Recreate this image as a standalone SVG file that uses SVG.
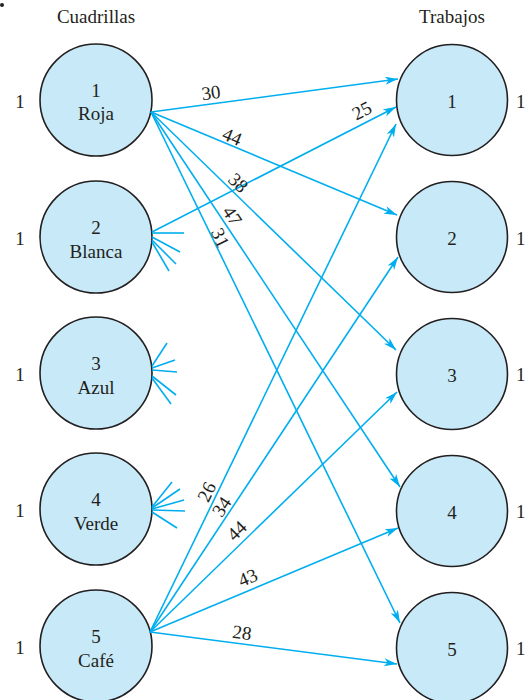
<svg xmlns="http://www.w3.org/2000/svg" width="525" height="700" viewBox="0 0 525 700">
<style>
text{font-family:"Liberation Serif","Times New Roman",serif;font-size:19px;fill:#231f20}
.m{text-anchor:middle}
.n circle{fill:#c8e9f8;stroke:#231f20;stroke-width:1.6}
.e line{stroke:#00aeef;stroke-width:1.6;fill:none}
.e .a{marker-end:url(#ah)}
</style>
<defs>
<marker id="ah" markerUnits="userSpaceOnUse" markerWidth="14" markerHeight="10" refX="13" refY="4" orient="auto">
<path d="M0,0 L13,4 L0,8 L3.5,4 z" fill="#00aeef"/>
</marker>
</defs>
<rect width="525" height="700" fill="#fff"/>
<circle cx="2" cy="5" r="2" fill="#231f20"/>
<text class="m" x="96" y="23">Cuadrillas</text>
<text class="m" x="452" y="23">Trabajos</text>
<g id="left-supply">
<text class="m" x="20" y="108">1</text>
<text class="m" x="20" y="245">1</text>
<text class="m" x="20" y="381">1</text>
<text class="m" x="20" y="517">1</text>
<text class="m" x="20" y="654">1</text>
</g>
<g id="right-demand">
<text x="516" y="108">1</text>
<text x="516" y="245">1</text>
<text x="516" y="381">1</text>
<text x="516" y="518">1</text>
<text x="516" y="655">1</text>
</g>
<g id="c1" class="n"><circle cx="96" cy="100" r="56"/><text class="m" x="96" y="97">1</text><text class="m" x="96" y="120">Roja</text></g>
<g id="c2" class="n"><circle cx="96" cy="237" r="56"/><text class="m" x="96" y="234">2</text><text class="m" x="96" y="258">Blanca</text></g>
<g id="c3" class="n"><circle cx="96" cy="373" r="56"/><text class="m" x="96" y="370">3</text><text class="m" x="96" y="394">Azul</text></g>
<g id="c4" class="n"><circle cx="96" cy="509" r="56"/><text class="m" x="96" y="506">4</text><text class="m" x="96" y="530">Verde</text></g>
<g id="c5" class="n"><circle cx="96" cy="646" r="56"/><text class="m" x="96" y="643">5</text><text class="m" x="96" y="667">Café</text></g>
<g id="t1" class="n"><circle cx="452" cy="100" r="55.5"/><text class="m" x="452" y="108">1</text></g>
<g id="t2" class="n"><circle cx="452" cy="237" r="55.5"/><text class="m" x="452" y="245">2</text></g>
<g id="t3" class="n"><circle cx="452" cy="374" r="55.5"/><text class="m" x="452" y="382">3</text></g>
<g id="t4" class="n"><circle cx="452" cy="511" r="55.5"/><text class="m" x="452" y="519">4</text></g>
<g id="t5" class="n"><circle cx="452" cy="648" r="55.5"/><text class="m" x="452" y="656">5</text></g>
<g id="connectors" class="e">
<line class="a" x1="151" y1="112" x2="398" y2="79"/>
<line class="a" x1="151" y1="112" x2="397" y2="215"/>
<line class="a" x1="151" y1="112" x2="396" y2="350"/>
<line class="a" x1="151" y1="112" x2="400" y2="487"/>
<line class="a" x1="151" y1="112" x2="400" y2="623"/>
<line class="a" x1="152" y1="232" x2="396" y2="107"/>
<line class="a" x1="150" y1="632" x2="396" y2="124"/>
<line class="a" x1="150" y1="632" x2="398" y2="257"/>
<line class="a" x1="150" y1="632" x2="397" y2="392"/>
<line class="a" x1="150" y1="632" x2="398" y2="528"/>
<line class="a" x1="150" y1="632" x2="397" y2="664"/>
<line x1="152" y1="233" x2="184" y2="233"/>
<line x1="152" y1="237" x2="180" y2="252"/>
<line x1="152" y1="240" x2="176" y2="264"/>
<line x1="152" y1="242" x2="169" y2="271"/>
<line x1="152" y1="366" x2="167" y2="343"/>
<line x1="152" y1="368" x2="175" y2="360"/>
<line x1="152" y1="370" x2="177" y2="372"/>
<line x1="152" y1="376" x2="176" y2="395"/>
<line x1="152" y1="378" x2="171" y2="404"/>
<line x1="152" y1="507" x2="172" y2="482"/>
<line x1="152" y1="508" x2="180" y2="489"/>
<line x1="152" y1="509" x2="184" y2="500"/>
<line x1="152" y1="510" x2="185" y2="511"/>
<line x1="152" y1="512" x2="177" y2="528"/>
</g>
<g id="edge-labels">
<text class="m" transform="translate(211,93) rotate(-7.6)" y="6">30</text>
<text class="m" transform="translate(232,137) rotate(22.7)" y="6">44</text>
<text class="m" transform="translate(238,183) rotate(44)" y="6">38</text>
<text class="m" transform="translate(232,216) rotate(56.4)" y="6">47</text>
<text class="m" transform="translate(220,238) rotate(64)" y="6">31</text>
<text class="m" transform="translate(362,111) rotate(-27)" y="6">25</text>
<text class="m" transform="translate(207,492) rotate(-64.2)" y="6">26</text>
<text class="m" transform="translate(222,507) rotate(-56.5)" y="6">34</text>
<text class="m" transform="translate(237,531) rotate(-44.3)" y="6">44</text>
<text class="m" transform="translate(248,578) rotate(-22.8)" y="6">43</text>
<text class="m" transform="translate(242,633) rotate(7.4)" y="6">28</text>
</g>
</svg>
